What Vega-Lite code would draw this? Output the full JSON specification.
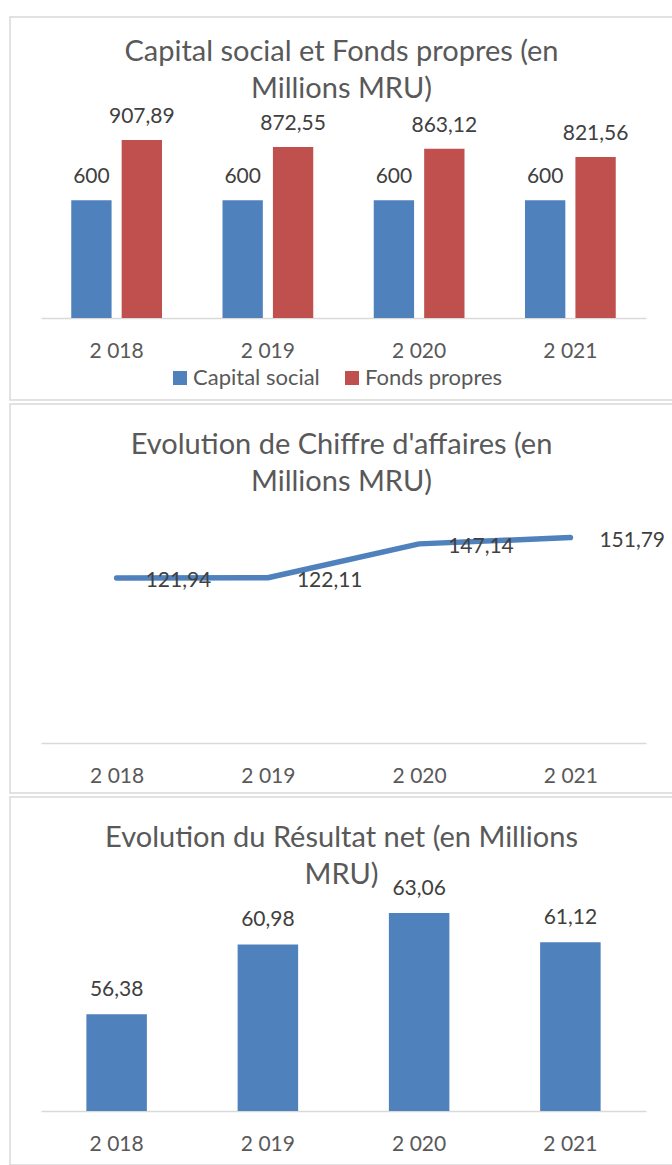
{
  "$schema": "https://vega.github.io/schema/vega-lite/v6.json",
  "padding": {"left": 9, "top": 16, "right": 0, "bottom": 0},
  "spacing": 2,
  "datasets": {
    "capital": [
      {"year": 2018, "series": "Capital social", "value": 600},
      {"year": 2018, "series": "Fonds propres", "value": 907.89},
      {"year": 2019, "series": "Capital social", "value": 600},
      {"year": 2019, "series": "Fonds propres", "value": 872.55},
      {"year": 2020, "series": "Capital social", "value": 600},
      {"year": 2020, "series": "Fonds propres", "value": 863.12},
      {"year": 2021, "series": "Capital social", "value": 600},
      {"year": 2021, "series": "Fonds propres", "value": 821.56}
    ],
    "ca": [
      {"year": 2018, "value": 121.94},
      {"year": 2019, "value": 122.11},
      {"year": 2020, "value": 147.14},
      {"year": 2021, "value": 151.79}
    ],
    "rn": [
      {"year": 2018, "value": 56.38},
      {"year": 2019, "value": 60.98},
      {"year": 2020, "value": 63.06},
      {"year": 2021, "value": 61.12}
    ]
  },
  "vconcat": [
    {
      "width": 663,
      "height": 383,
      "data": {"name": "capital"},
      "title": {"text": ["Capital social et Fonds propres (en", "Millions MRU)"], "offset": -87},
      "encoding": {
        "x": {
          "field": "year", "type": "ordinal",
          "scale": {"range": [31, 636], "paddingInner": 0.4, "paddingOuter": 0.2},
          "axis": {"offset": -82}
        },
        "xOffset": {"field": "series", "type": "nominal", "scale": {"paddingInner": 0.2, "paddingOuter": 0}},
        "y": {"field": "value", "type": "quantitative", "scale": {"domain": [0, 1535], "range": [301, 0]}, "axis": null}
      },
      "layer": [
        {
          "mark": {"type": "bar"},
          "encoding": {
            "color": {
              "field": "series", "type": "nominal",
              "scale": {"domain": ["Capital social", "Fonds propres"], "range": ["#4f81bd", "#c0504d"]},
              "legend": {
                "orient": "none", "legendX": 159, "legendY": 350, "direction": "horizontal", "title": null,
                "symbolType": "square", "symbolSize": 196, "symbolStrokeWidth": 0,
                "labelFont": "Lato", "labelFontSize": 22, "labelColor": "#595959",
                "columnPadding": 21, "labelOffset": 2
              }
            }
          }
        },
        {
          "mark": {"type": "text", "baseline": "alphabetic", "dy": -17, "font": "Lato", "fontSize": 21, "color": "#404040"},
          "encoding": {"text": {"field": "value", "type": "quantitative", "format": ".2~f"}}
        }
      ]
    },
    {
      "width": 663,
      "height": 389,
      "data": {"name": "ca"},
      "title": {"text": ["Evolution de Chiffre d'affaires (en", "Millions MRU)"], "offset": -93},
      "encoding": {
        "x": {
          "field": "year", "type": "ordinal",
          "scale": {"type": "point", "range": [31, 636], "padding": 0.5},
          "axis": {"offset": -50}
        },
        "y": {"field": "value", "type": "quantitative", "scale": {"domain": [0, 250.5], "range": [339, 0]}, "axis": null}
      },
      "layer": [
        {"mark": {"type": "line", "color": "#4f81bd", "strokeWidth": 5.5, "strokeCap": "round", "strokeJoin": "round"}},
        {
          "mark": {"type": "text", "align": "left", "baseline": "middle", "dx": 29, "dy": 3, "font": "Lato", "fontSize": 21, "color": "#404040"},
          "encoding": {"text": {"field": "value", "type": "quantitative", "format": ".2~f"}}
        }
      ]
    },
    {
      "width": 663,
      "height": 368,
      "data": {"name": "rn"},
      "title": {"text": ["Evolution du Résultat net (en Millions", "MRU)"], "offset": -93},
      "encoding": {
        "x": {
          "field": "year", "type": "ordinal",
          "scale": {"range": [31, 636], "paddingInner": 0.6, "paddingOuter": 0.3},
          "axis": {"offset": -54}
        },
        "y": {"field": "value", "type": "quantitative", "scale": {"domain": [50, 70.7], "range": [314, 0], "zero": false}, "axis": null}
      },
      "layer": [
        {"mark": {"type": "bar", "color": "#4f81bd"}, "encoding": {"y2": {"datum": 50}}},
        {
          "mark": {"type": "text", "baseline": "alphabetic", "dy": -18, "font": "Lato", "fontSize": 21, "color": "#404040"},
          "encoding": {"text": {"field": "value", "type": "quantitative", "format": ".2~f"}}
        }
      ]
    }
  ],
  "config": {
    "locale": {"number": {"decimal": ",", "thousands": " ", "grouping": [3], "currency": ["", ""]}},
    "view": {"stroke": "#d9d9d9", "strokeWidth": 1.5},
    "title": {"font": "Lato", "fontSize": 29, "fontWeight": "normal", "color": "#595959", "lineHeight": 37, "anchor": "middle", "baseline": "top", "frame": "group"},
    "axisX": {
      "domainColor": "#d9d9d9", "domainWidth": 1.5, "ticks": false, "tickSize": 0, "grid": false,
      "labelFont": "Lato", "labelFontSize": 21, "labelColor": "#595959", "labelBaseline": "alphabetic",
      "labelPadding": 39, "labelAngle": 0, "title": null, "format": ",d", "formatType": "number"
    }
  }
}
